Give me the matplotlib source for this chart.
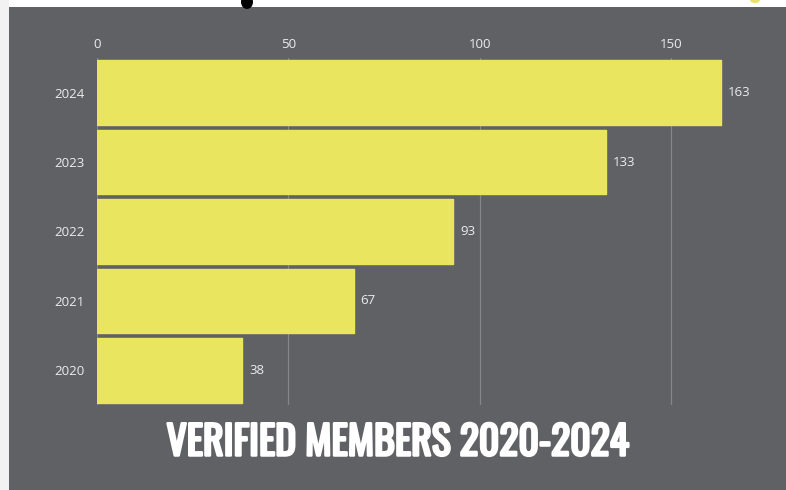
import matplotlib
matplotlib.use("Agg")
import matplotlib.pyplot as plt
from matplotlib.patches import Rectangle, Ellipse
from matplotlib import font_manager
import matplotlib.patheffects as pe

years = ["2020", "2021", "2022", "2023", "2024"]
members = [38, 67, 93, 133, 163]
xticks = [0, 50, 100, 150]
title = "VERIFIED MEMBERS 2020-2024"

BG = "#606165"
BAR = "#EAE55F"
GRID = "#85868a"
TXT = "#ececec"

names = {f.name for f in font_manager.fontManager.ttflist}
tick_font = "Open Sans" if "Open Sans" in names else "DejaVu Sans"
title_font = None
for cand in ["Oswald", "Roboto Condensed", "Open Sans Condensed", "Liberation Sans Narrow",
             "DejaVu Sans Condensed", "Roboto", "Liberation Sans"]:
    if cand in names:
        title_font = cand
        break
if title_font is None:
    title_font = "DejaVu Sans"
bold_weights = [f.weight for f in font_manager.fontManager.ttflist
                if f.name == title_font and isinstance(f.weight, int) and f.weight >= 600]
has_bold = len(bold_weights) > 0

W, H = 786, 490
fig = plt.figure(figsize=(W / 100, H / 100), dpi=100)
fig.patch.set_facecolor("white")
fig.patches.append(Rectangle((0, 0), 9 / W, 1, transform=fig.transFigure,
                             facecolor="#f2f2f2", edgecolor="none", zorder=-5))
fig.patches.append(Rectangle((9 / W, 0), 1 - 9 / W, (H - 7) / H, transform=fig.transFigure,
                             facecolor=BG, edgecolor="none", zorder=-5))
fig.patches.append(Ellipse((247 / W, 1 - 2 / H), 12 / W, 14 / H, transform=fig.transFigure,
                           facecolor="black", edgecolor="none", zorder=-4))
fig.patches.append(Ellipse((755 / W, 1.0), 10 / W, 6 / H, transform=fig.transFigure,
                           facecolor="#e8e36a", edgecolor="none", zorder=-4))

left, right = 97 / W, 767 / W
top, bottom = 58 / H, 405 / H
ax = fig.add_axes([left, 1 - bottom, right - left, bottom - top])
ax.set_zorder(2)
ax.set_facecolor("none")
for s in ax.spines.values():
    s.set_visible(False)

ypos = list(range(len(years)))
ax.barh(ypos, members, height=0.93, color=BAR, edgecolor=BAR,
        linewidth=1.0, joinstyle="round", zorder=3)
ax.set_xlim(0, 175)
ax.set_ylim(-0.5, len(years) - 0.5)
ax.set_xticks(xticks)
ax.set_xticklabels([str(t) for t in xticks])
ax.set_yticks(ypos)
ax.set_yticklabels(years)
ax.xaxis.tick_top()
ax.tick_params(axis="both", length=0, colors=TXT, labelsize=9.5)
ax.tick_params(axis="x", pad=5)
ax.tick_params(axis="y", pad=9)
for lab in ax.get_xticklabels() + ax.get_yticklabels():
    lab.set_fontfamily(tick_font)
ax.grid(axis="x", color=GRID, linewidth=0.9, zorder=1)
ax.grid(axis="y", visible=False)

for y, v in zip(ypos, members):
    ax.annotate(str(v), xy=(v, y), xytext=(5, 0), textcoords="offset points",
                ha="left", va="center", color=TXT, fontsize=9.5,
                fontfamily=tick_font)

t = fig.text((9 + W) / 2 / W, (H - 443) / H, title, ha="center", va="center",
             color="white", fontsize=29, fontweight="bold", fontfamily=title_font)
fig.canvas.draw()
wpx = t.get_window_extent().width
if has_bold:
    t.set_fontsize(29 * 511 / wpx)
else:
    t.set_fontsize(29 * 462 / wpx)
    t.set_path_effects([pe.withStroke(linewidth=1.8, foreground="white")])

fig.savefig("out.png", dpi=100)
